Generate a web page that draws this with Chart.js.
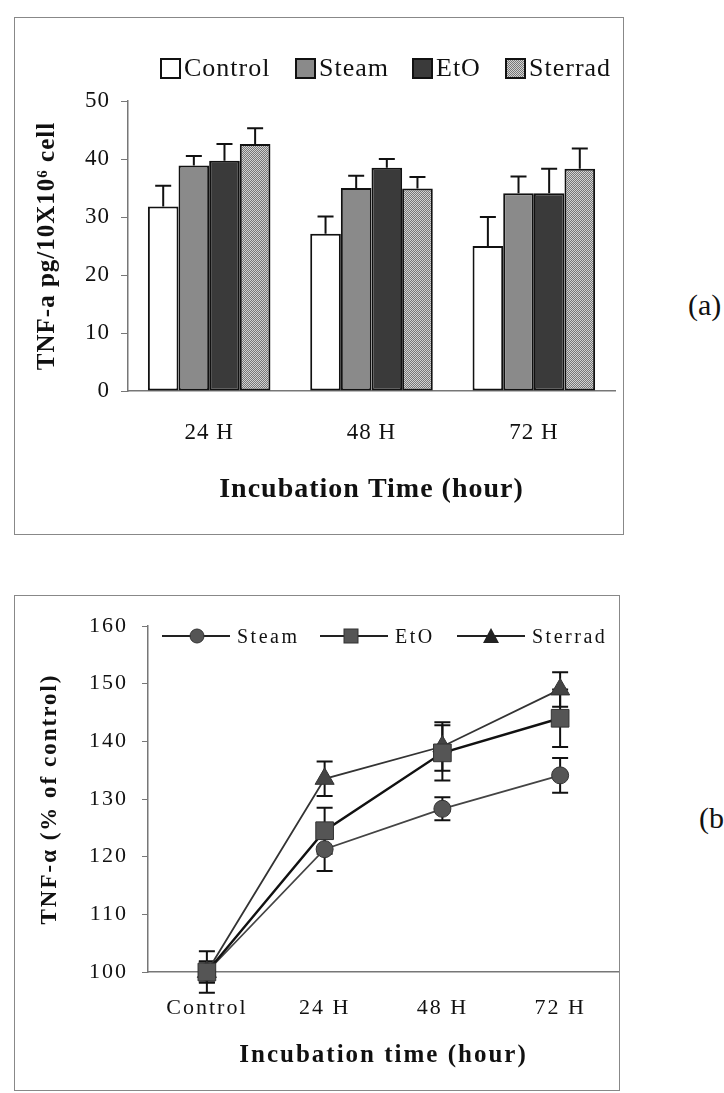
<html>

<head>
    <title>TNF-a release</title>
    <meta name="viewport" content="width=device-width, initial-scale=1">
    <script src="https://cdn.jsdelivr.net/npm/chart.js"></script>
    <style>
        body {
            margin: 0;
            width: 724px;
            height: 1093px;
            overflow: hidden;
            background: #fff;
            position: relative;
            font-family: "Liberation Serif", "Times New Roman", serif;
            color: #111;
        }

        .frame {
            position: absolute;
            box-sizing: border-box;
            border: 1px solid #888;
        }

        canvas {
            position: absolute;
        }

        .item {
            position: absolute;
            display: flex;
            align-items: center;
            white-space: nowrap;
        }

        .box {
            box-sizing: border-box;
            width: 21px;
            height: 21px;
            border: 2px solid #111;
            margin-right: 3px;
        }

        .legendA .item {
            top: 53px;
            font-size: 26px;
            line-height: 30px;
            letter-spacing: 1px;
        }

        .legendB .item {
            top: 624px;
            font-size: 20px;
            line-height: 24px;
            letter-spacing: 2.5px;
        }

        .legendB svg {
            margin-right: 7px;
        }

        .tag {
            position: absolute;
            font-size: 30px;
            line-height: 34px;
            white-space: nowrap;
        }
    </style>
</head>

<body>
    <div class="frame" style="left: 14px; top: 17px; width: 610px; height: 518px;"></div>
    <canvas id="pgChart" width="608" height="516" style="left: 15px; top: 18px;"></canvas>
    <div class="legendA">
        <div class="item" style="left: 160px;"><span class="box" style="background: #fff;"></span>Control</div>
        <div class="item" style="left: 295px;"><span class="box" style="background: #8a8a8a;"></span>Steam</div>
        <div class="item" style="left: 412px;"><span class="box" style="background: #3a3a3a;"></span>EtO</div>
        <div class="item" style="left: 505px;"><span class="box" style="background: repeating-conic-gradient(#777 0 25%, #d2d2d2 0 50%) 0 0 / 2px 2px;"></span>Sterrad</div>
    </div>
    <div class="tag" style="left: 688px; top: 288px;">(a)</div>

    <div class="frame" style="left: 14px; top: 595px; width: 606px; height: 496px;"></div>
    <canvas id="pctChart" width="604" height="494" style="left: 15px; top: 596px;"></canvas>
    <div class="legendB">
        <div class="item" style="left: 162px;">
            <svg width="68" height="20"><line x1="0" y1="10" x2="68" y2="10" stroke="#222" stroke-width="2" /><circle cx="35" cy="10" r="7" fill="#555" stroke="#333" /></svg>Steam
        </div>
        <div class="item" style="left: 320px;">
            <svg width="68" height="20"><line x1="0" y1="10" x2="68" y2="10" stroke="#222" stroke-width="2" /><rect x="24" y="3" width="14" height="14" fill="#555" stroke="#333" /></svg>EtO
        </div>
        <div class="item" style="left: 457px;">
            <svg width="68" height="20"><line x1="0" y1="10" x2="68" y2="10" stroke="#222" stroke-width="2" /><polygon points="34,2 42,17 26,17" fill="#222" /></svg>Sterrad
        </div>
    </div>
    <div class="tag" style="left: 699px; top: 801px;">(b)</div>
</body>
<script>
    // TNF-a (pg / 10x10^6 cell) per sterilisation method
    const timeLabels = ['24 H', '48 H', '72 H']
    const methodNames = ['Control', 'Steam', 'EtO', 'Sterrad']
    const controlPg = [31.8, 27.1, 25.0]
    const steamPg = [38.9, 35.0, 34.1]
    const etoPg = [39.7, 38.5, 34.1]
    const sterradPg = [42.6, 34.9, 38.3]
    const controlPgErr = [3.6, 3.0, 5.0]
    const steamPgErr = [1.6, 2.1, 2.9]
    const etoPgErr = [2.9, 1.5, 4.2]
    const sterradPgErr = [2.7, 2.0, 3.5]
    const pgTicks = [0, 10, 20, 30, 40, 50]

    // TNF-a as % of control
    const pctLabels = ['Control', '24 H', '48 H', '72 H']
    const steamPct = [100, 121.3, 128.3, 134.1]
    const etoPct = [100, 124.5, 138.0, 144.0]
    const sterradPct = [100, 133.5, 139.1, 149.0]
    const steamPctErr = [1.8, 3.8, 2.0, 3.0]
    const etoPctErr = [1.8, 4.0, 4.8, 5.0]
    const sterradPctErr = [3.6, 3.0, 4.2, 3.0]
    const pctTicks = [100, 110, 120, 130, 140, 150, 160]

    const serif = '"Liberation Serif", "Times New Roman", serif'

    // stipple fill for the Sterrad bars
    const stipple = (() => {
        const c = document.createElement('canvas')
        c.width = 2
        c.height = 2
        const g = c.getContext('2d')
        g.fillStyle = '#d2d2d2'
        g.fillRect(0, 0, 2, 2)
        g.fillStyle = '#777'
        g.fillRect(0, 0, 1, 1)
        g.fillRect(1, 1, 1, 1)
        return g.createPattern(c, 'repeat')
    })()

    const letterSpacing = (px) => ({
        id: 'letterSpacing',
        beforeLayout(chart) {
            chart.ctx.letterSpacing = px
        },
        beforeDraw(chart) {
            chart.ctx.letterSpacing = px
        }
    })

    // whiskers read from dataset.errors; upOnly draws just the top half
    const drawErrors = (chart, upOnly, cap) => {
        const ctx = chart.ctx
        const yScale = chart.scales.y
        ctx.save()
        ctx.strokeStyle = '#111'
        ctx.lineWidth = 2
        chart.data.datasets.forEach((ds, i) => {
            const meta = chart.getDatasetMeta(i)
            meta.data.forEach((el, j) => {
                const v = ds.data[j]
                const e = ds.errors[j]
                const top = yScale.getPixelForValue(v + e)
                const bottom = upOnly ? el.y : yScale.getPixelForValue(v - e)
                ctx.beginPath()
                ctx.moveTo(el.x, top)
                ctx.lineTo(el.x, bottom)
                ctx.moveTo(el.x - cap, top)
                ctx.lineTo(el.x + cap, top)
                if (!upOnly) {
                    ctx.moveTo(el.x - cap, bottom)
                    ctx.lineTo(el.x + cap, bottom)
                }
                ctx.stroke()
            })
        })
        ctx.restore()
    }

    const barErrors = {
        id: 'barErrors',
        afterDatasetsDraw(chart) {
            drawErrors(chart, true, 8)
        }
    }

    const lineErrors = {
        id: 'lineErrors',
        beforeDatasetsDraw(chart) {
            drawErrors(chart, false, 8)
        }
    }

    const pgChart = new Chart(document.getElementById('pgChart').getContext('2d'), {
        type: 'bar',
        data: {
            labels: timeLabels,
            datasets: [
                { label: methodNames[0], data: controlPg, errors: controlPgErr, backgroundColor: '#fff' },
                { label: methodNames[1], data: steamPg, errors: steamPgErr, backgroundColor: '#8a8a8a' },
                { label: methodNames[2], data: etoPg, errors: etoPgErr, backgroundColor: '#3a3a3a' },
                { label: methodNames[3], data: sterradPg, errors: sterradPgErr, backgroundColor: stipple }
            ]
        },
        options: {
            responsive: false,
            animation: false,
            layout: { autoPadding: false, padding: { top: 83, right: 8, bottom: 0, left: 0 } },
            datasets: {
                bar: {
                    categoryPercentage: 0.755,
                    barPercentage: 1,
                    borderWidth: 2,
                    borderColor: '#111',
                    borderSkipped: false
                }
            },
            plugins: {
                legend: { display: false },
                tooltip: { enabled: false }
            },
            scales: {
                x: {
                    grid: { drawOnChartArea: false, drawTicks: false },
                    border: { color: '#777', width: 1.5 },
                    ticks: { color: '#111', padding: 28, font: { family: serif, size: 23 } },
                    title: {
                        display: true,
                        text: 'Incubation Time (hour)',
                        color: '#111',
                        padding: { top: 0, bottom: 27 },
                        font: { family: serif, size: 28, weight: 'bold' }
                    },
                    afterFit(scale) {
                        scale.height = 143
                    }
                },
                y: {
                    min: 0,
                    max: 50,
                    afterBuildTicks(scale) {
                        scale.ticks = pgTicks.map(v => ({ value: v }))
                    },
                    grid: { drawOnChartArea: false, tickLength: 7, color: '#777' },
                    border: { color: '#777', width: 1.5 },
                    ticks: { color: '#111', padding: 11, font: { family: serif, size: 23 } },
                    title: {
                        display: true,
                        text: 'TNF-a pg/10X10⁶ cell',
                        color: '#111',
                        padding: { top: 18, bottom: 0 },
                        font: { family: serif, size: 25, weight: 'bold' }
                    },
                    afterFit(scale) {
                        scale.width = 113
                    }
                }
            }
        },
        plugins: [barErrors, letterSpacing('1px')]
    })

    const pctChart = new Chart(document.getElementById('pctChart').getContext('2d'), {
        type: 'line',
        data: {
            labels: pctLabels,
            datasets: [
                {
                    label: 'Steam', data: steamPct, errors: steamPctErr, order: 1,
                    borderColor: '#444', borderWidth: 1.8,
                    pointStyle: 'circle', pointRadius: 8.5,
                    pointBackgroundColor: '#555', pointBorderColor: '#333', pointBorderWidth: 1
                },
                {
                    label: 'EtO', data: etoPct, errors: etoPctErr, order: 0,
                    borderColor: '#111', borderWidth: 2.4,
                    pointStyle: 'rect', pointRadius: 12.5,
                    pointBackgroundColor: '#555', pointBorderColor: '#333', pointBorderWidth: 1
                },
                {
                    label: 'Sterrad', data: sterradPct, errors: sterradPctErr, order: 2,
                    borderColor: '#333', borderWidth: 1.8,
                    pointStyle: 'triangle', pointRadius: 11,
                    pointBackgroundColor: '#444', pointBorderColor: '#333', pointBorderWidth: 1
                }
            ]
        },
        options: {
            responsive: false,
            animation: false,
            layout: { autoPadding: false, padding: { top: 30, right: 0, bottom: 0, left: 0 } },
            datasets: { line: { tension: 0, clip: false } },
            plugins: {
                legend: { display: false },
                tooltip: { enabled: false }
            },
            scales: {
                x: {
                    offset: true,
                    grid: { drawOnChartArea: false, drawTicks: false, offset: false },
                    border: { color: '#777', width: 1.5 },
                    ticks: { color: '#111', padding: 23, font: { family: serif, size: 22 } },
                    title: {
                        display: true,
                        text: 'Incubation time (hour)',
                        color: '#111',
                        padding: { top: 0, bottom: 19 },
                        font: { family: serif, size: 25, weight: 'bold' }
                    },
                    afterFit(scale) {
                        scale.height = 118
                    }
                },
                y: {
                    min: 100,
                    max: 160,
                    afterBuildTicks(scale) {
                        scale.ticks = pctTicks.map(v => ({ value: v }))
                    },
                    grid: { drawOnChartArea: false, tickLength: 6, color: '#777' },
                    border: { color: '#777', width: 1.5 },
                    ticks: { color: '#111', padding: 14, font: { family: serif, size: 22 } },
                    title: {
                        display: true,
                        text: 'TNF-α (% of control)',
                        color: '#111',
                        padding: { top: 21, bottom: 0 },
                        font: { family: serif, size: 23, weight: 'bold' }
                    },
                    afterFit(scale) {
                        scale.width = 133
                    }
                }
            }
        },
        plugins: [lineErrors, letterSpacing('2px')]
    })
</script>
</html>
